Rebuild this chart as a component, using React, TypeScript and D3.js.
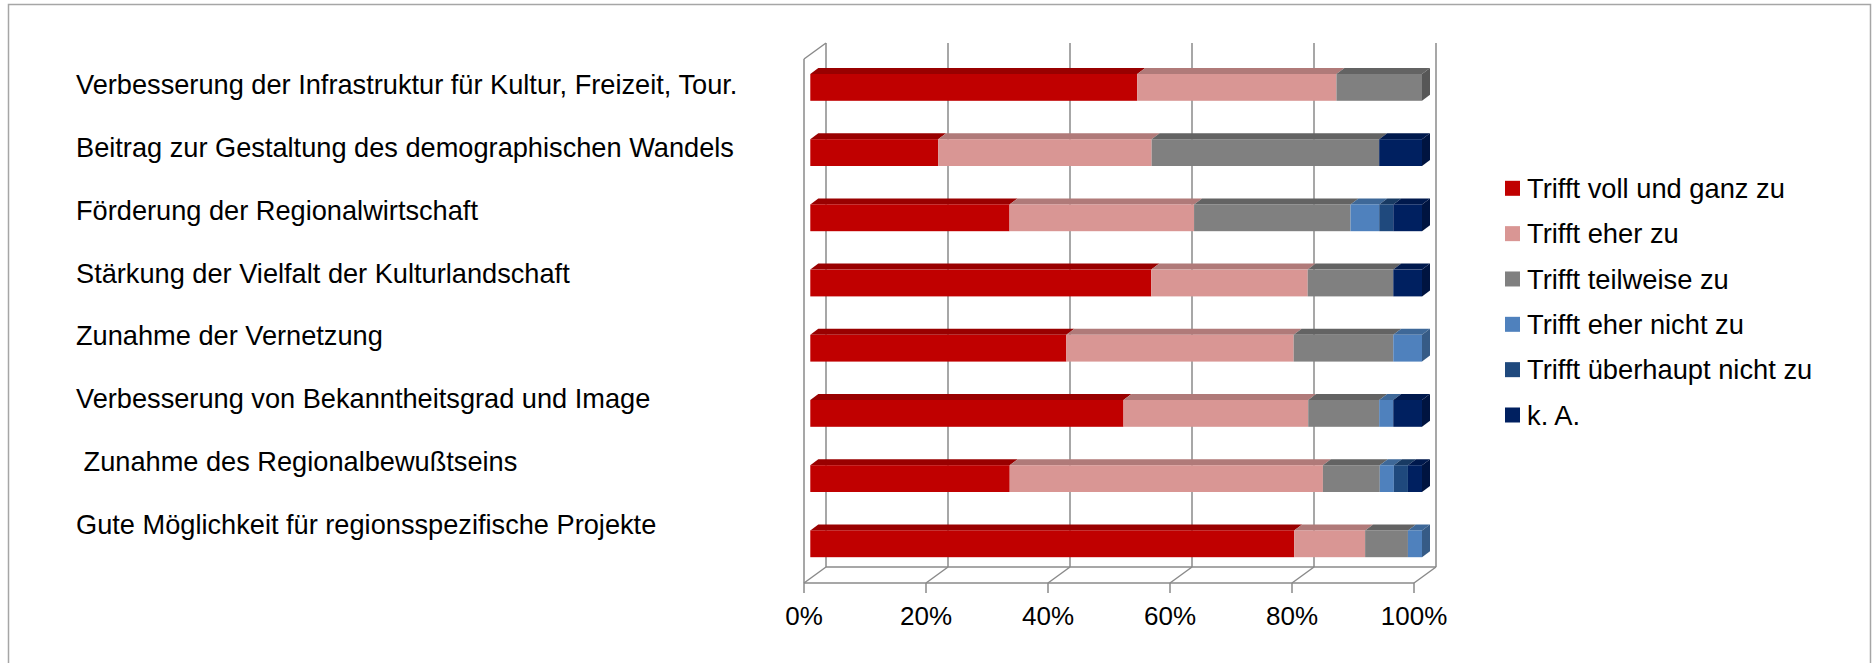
import React from "react";
import * as d3 from "d3";

const categories = [
  "Verbesserung der Infrastruktur für Kultur, Freizeit, Tour.",
  "Beitrag zur Gestaltung des demographischen Wandels",
  "Förderung der Regionalwirtschaft",
  "Stärkung der Vielfalt der Kulturlandschaft",
  "Zunahme der Vernetzung",
  "Verbesserung von Bekanntheitsgrad und Image",
  " Zunahme des Regionalbewußtseins",
  "Gute Möglichkeit für regionsspezifische Projekte",
];

const seriesNames = [
  "Trifft voll und ganz zu",
  "Trifft eher zu",
  "Trifft teilweise zu",
  "Trifft eher nicht zu",
  "Trifft überhaupt nicht zu",
  "k. A.",
];

// percentages per category (same order as categories)
const vollUndGanz = [53.5, 20.9, 32.6, 55.8, 41.9, 51.2, 32.6, 79.1];
const eherZu = [32.6, 34.9, 30.2, 25.6, 37.2, 30.2, 51.2, 11.6];
const teilweise = [14.0, 37.2, 25.6, 14.0, 16.3, 11.6, 9.3, 7.0];
const eherNicht = [0, 0, 4.7, 0, 4.7, 2.3, 2.3, 2.3];
const ueberhauptNicht = [0, 0, 2.3, 0, 0, 0, 2.3, 0];
const keineAngabe = [0, 7.0, 4.7, 4.7, 0, 4.7, 2.3, 0];

const tickValues = [0, 0.2, 0.4, 0.6, 0.8, 1];

const frontColors = ["#C00000", "#D99694", "#808080", "#4F81BD", "#1F497D", "#002060"];
const topColors = ["#990000", "#B07A79", "#636363", "#3E6898", "#183A63", "#00194D"];
const sideColors = ["#860000", "#9C6B6A", "#575757", "#365B86", "#153257", "#001440"];

const FONT = "'Liberation Sans', Arial, sans-serif";

export default function App() {
  const W = 1872;
  const H = 663;

  const seriesArrays = [vollUndGanz, eherZu, teilweise, eherNicht, ueberhauptNicht, keineAngabe];
  const rows = categories.map((c, i) => {
    const o: Record<string, any> = { cat: c };
    seriesNames.forEach((s, k) => (o[s] = seriesArrays[k][i]));
    return o;
  });
  const stacked = d3.stack().keys(seriesNames).offset(d3.stackOffsetExpand)(rows as any);

  // geometry of the pseudo-3D plot
  const xFront = d3.scaleLinear().domain([0, 1]).range([804, 1414]);
  const wallDx = 22;
  const wallDy = -16;
  const floorY = 583;
  const wallTop = 43;
  const xBar = d3.scaleLinear().domain([0, 1]).range([810.3, 1422]);
  const barDx = 8;
  const barDy = -6;

  const yBand = d3
    .scaleBand<string>()
    .domain(categories)
    .range([54.8, 576.4])
    .paddingInner(0.589)
    .paddingOuter(0.2945);
  const bh = yBand.bandwidth();

  const yLabel = d3.scalePoint<string>().domain(categories).range([94, 534]);

  const legendY = d3.scalePoint<string>().domain(seriesNames).range([188.3, 415]);

  const grid = "#8a8a8a";
  const fmt = d3.format(".0%");

  return (
    <svg
      width={W}
      height={H}
      style={{ position: "absolute", left: 0, top: 0, background: "#fff" }}
      fontFamily={FONT}
    >
      <rect x={0} y={0} width={W} height={H} fill="#fff" />
      <rect x={8.5} y={4.5} width={1862} height={680} fill="#fff" stroke="#a6a6a6" strokeWidth={1.5} />

      {/* back wall gridlines */}
      {tickValues.map((t) => (
        <line
          key={"g" + t}
          x1={xFront(t) + wallDx}
          x2={xFront(t) + wallDx}
          y1={wallTop}
          y2={floorY + wallDy}
          stroke={grid}
          strokeWidth={1.5}
        />
      ))}
      {/* left wall */}
      <line x1={xFront(0)} x2={xFront(0)} y1={wallTop - wallDy} y2={floorY} stroke={grid} strokeWidth={1.5} />
      <line
        x1={xFront(0)}
        x2={xFront(0) + wallDx}
        y1={wallTop - wallDy}
        y2={wallTop}
        stroke={grid}
        strokeWidth={1.5}
      />
      {/* floor */}
      <line x1={xFront(0)} x2={xFront(1)} y1={floorY} y2={floorY} stroke={grid} strokeWidth={1.5} />
      <line
        x1={xFront(0) + wallDx}
        x2={xFront(1) + wallDx}
        y1={floorY + wallDy}
        y2={floorY + wallDy}
        stroke={grid}
        strokeWidth={1.5}
      />
      {tickValues.map((t) => (
        <g key={"f" + t}>
          <line
            x1={xFront(t)}
            x2={xFront(t) + wallDx}
            y1={floorY}
            y2={floorY + wallDy}
            stroke={grid}
            strokeWidth={1.5}
          />
          <line x1={xFront(t)} x2={xFront(t)} y1={floorY} y2={floorY + 10} stroke={grid} strokeWidth={1.5} />
          <text x={xFront(t)} y={625} textAnchor="middle" fontSize={26} fill="#000">
            {fmt(t)}
          </text>
        </g>
      ))}

      {/* bars */}
      {categories.map((c, i) => {
        const y = yBand(c) as number;
        let lastK = -1;
        stacked.forEach((s, k) => {
          if (s[i][1] - s[i][0] > 0) lastK = k;
        });
        return (
          <g key={"b" + i}>
            {stacked.map((s, k) => {
              const v0 = s[i][0];
              const v1 = s[i][1];
              if (v1 - v0 <= 0) return null;
              const x0 = xBar(v0);
              const x1 = xBar(v1);
              return (
                <g key={k}>
                  <polygon
                    points={`${x0},${y} ${x1},${y} ${x1 + barDx},${y + barDy} ${x0 + barDx},${y + barDy}`}
                    fill={topColors[k]}
                  />
                  <rect x={x0} y={y} width={x1 - x0} height={bh} fill={frontColors[k]} />
                  {k === lastK && (
                    <polygon
                      points={`${x1},${y} ${x1 + barDx},${y + barDy} ${x1 + barDx},${y + bh + barDy} ${x1},${y + bh}`}
                      fill={sideColors[k]}
                    />
                  )}
                </g>
              );
            })}
          </g>
        );
      })}

      {/* category labels */}
      {categories.map((c) => (
        <text
          key={"l" + c}
          x={76}
          y={yLabel(c)}
          fontSize={27.2}
          fill="#000"
          style={{ whiteSpace: "pre" }}
        >
          {c}
        </text>
      ))}

      {/* legend */}
      {seriesNames.map((s, k) => (
        <g key={"lg" + s}>
          <rect x={1505} y={(legendY(s) as number) - 7.5} width={15} height={15} fill={frontColors[k]} />
          <text x={1527} y={(legendY(s) as number) + 9.8} fontSize={27.3} fill="#000">
            {s}
          </text>
        </g>
      ))}
    </svg>
  );
}
